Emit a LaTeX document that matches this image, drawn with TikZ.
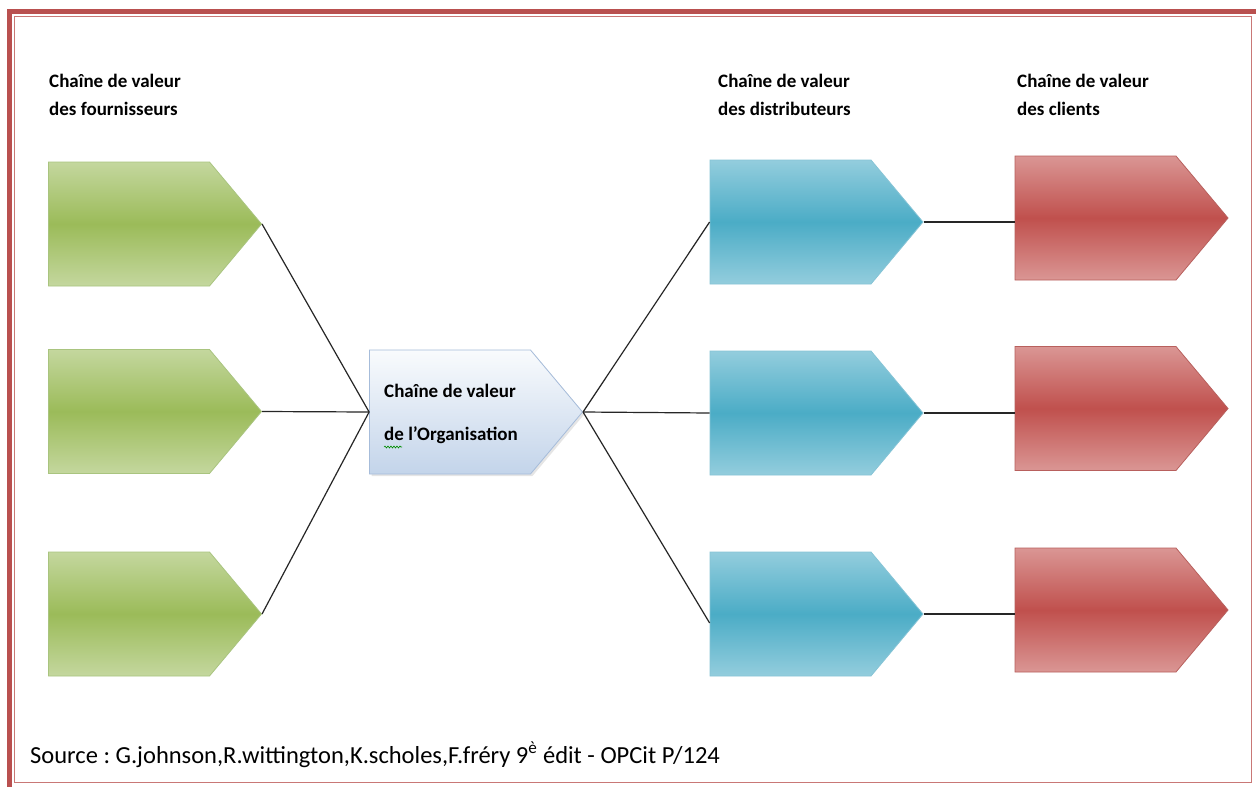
\documentclass[tikz,border=0pt]{standalone}
\usepackage{fontspec}
\setmainfont{Carlito}
\frenchspacing
\usetikzlibrary{shapes.symbols,shadows,decorations.pathmorphing}
\definecolor{grnD}{HTML}{9BBB59}
\definecolor{grnL}{HTML}{C4D79E}
\definecolor{grnB}{HTML}{A9C47F}
\definecolor{bluD}{HTML}{4BACC6}
\definecolor{bluL}{HTML}{93CDDD}
\definecolor{bluB}{HTML}{86C4D6}
\definecolor{redD}{HTML}{C0504D}
\definecolor{redL}{HTML}{DA9694}
\definecolor{redB}{HTML}{B8605D}
\definecolor{orgT}{HTML}{F9FBFD}
\definecolor{orgB}{HTML}{C3D4EA}
\definecolor{orgE}{HTML}{A6BCDA}
\definecolor{frameD}{HTML}{B9504F}
\definecolor{frameL}{HTML}{C97876}
\begin{document}
\begin{tikzpicture}[x=1pt,y=-1pt,
  chev/.style={signal, signal to=east, signal pointer angle=100,
    minimum width=213pt, minimum height=124pt, inner sep=0pt, line width=0.8pt},
  gchev/.style={chev, draw=grnB, top color=grnL, bottom color=grnL, middle color=grnD},
  bchev/.style={chev, draw=bluB, top color=bluL, bottom color=bluL, middle color=bluD},
  rchev/.style={chev, draw=redB, top color=redL, bottom color=redL, middle color=redD},
  ochev/.style={chev, draw=orgE, top color=orgT, bottom color=orgB,
    drop shadow={opacity=0.2, shadow xshift=2pt, shadow yshift=-2pt}},
  link/.style={draw=black!85, line width=1.2pt},
  lbl/.style={font=\fontsize{19}{23}\selectfont\bfseries, anchor=base west, inner sep=0pt},
  src/.style={font=\fontsize{24.5}{28}\selectfont, anchor=base west, inner sep=0pt},
  frameout/.style={draw=frameD, line width=5pt},
  framein/.style={draw=frameL, line width=1.5pt},
]
\useasboundingbox (0,0) rectangle (1256,787);
\clip (0,0) rectangle (1256,787);
\fill[white] (0,0) rectangle (1256,787);
% frame
\draw[frameout] (9.5,11) rectangle (1259,789);
\draw[framein] (14.5,16.5) rectangle (1251.5,782.5);

% chevrons (node centre = centre of the rectangular body)
\node[gchev] (g1) at (129,224) {};
\node[gchev] (g2) at (129,411.5) {};
\node[gchev] (g3) at (129,614) {};
\node[ochev] (org) at (450,412) {};
\node[bchev] (b1) at (790.5,222) {};
\node[bchev] (b2) at (790.5,413) {};
\node[bchev] (b3) at (790.5,614) {};
\node[rchev] (r1) at (1095.5,218) {};
\node[rchev] (r2) at (1095.5,408.5) {};
\node[rchev] (r3) at (1095.5,610) {};

% connectors
\draw[link] (g1.east) -- (org.west);
\draw[link] (g2.east) -- (org.west);
\draw[link] (g3.east) -- (org.west);
\draw[link] (org.east) -- (b1.west);
\draw[link] (org.east) -- (b2.west);
\draw[link] (org.east) -- ([yshift=-9pt]b3.west);
\draw[link] (b1.east) -- (b1.east -| r1.west);
\draw[link] (b2.east) -- (b2.east -| r2.west);
\draw[link] (b3.east) -- (b3.east -| r3.west);

% labels
\node[lbl] (t1a) at (49,87) {Chaîne de valeur};
\node[lbl] (t1b) at (49,115) {des fournisseurs};
\node[lbl] (t2a) at (718,87) {Chaîne de valeur};
\node[lbl] (t2b) at (718,115) {des distributeurs};
\node[lbl] (t3a) at (1017,87) {Chaîne de valeur};
\node[lbl] (t3b) at (1017,115) {des clients};
\node[lbl] (o1) at (384,397) {Chaîne de valeur};
\node[lbl] (o2) at (384,440) {de l’Organisation};
\draw[green!55!black, line width=0.6pt, decorate,
  decoration={snake, amplitude=1pt, segment length=3pt}] (o2.base west) ++(0,7) -- ++(18,0);

\node[src] (source) at (30,763) {Source : G.johnson,R.wittington,K.scholes,F.fréry 9\textsuperscript{è} édit - OPCit P/124};
\end{tikzpicture}
\end{document}
